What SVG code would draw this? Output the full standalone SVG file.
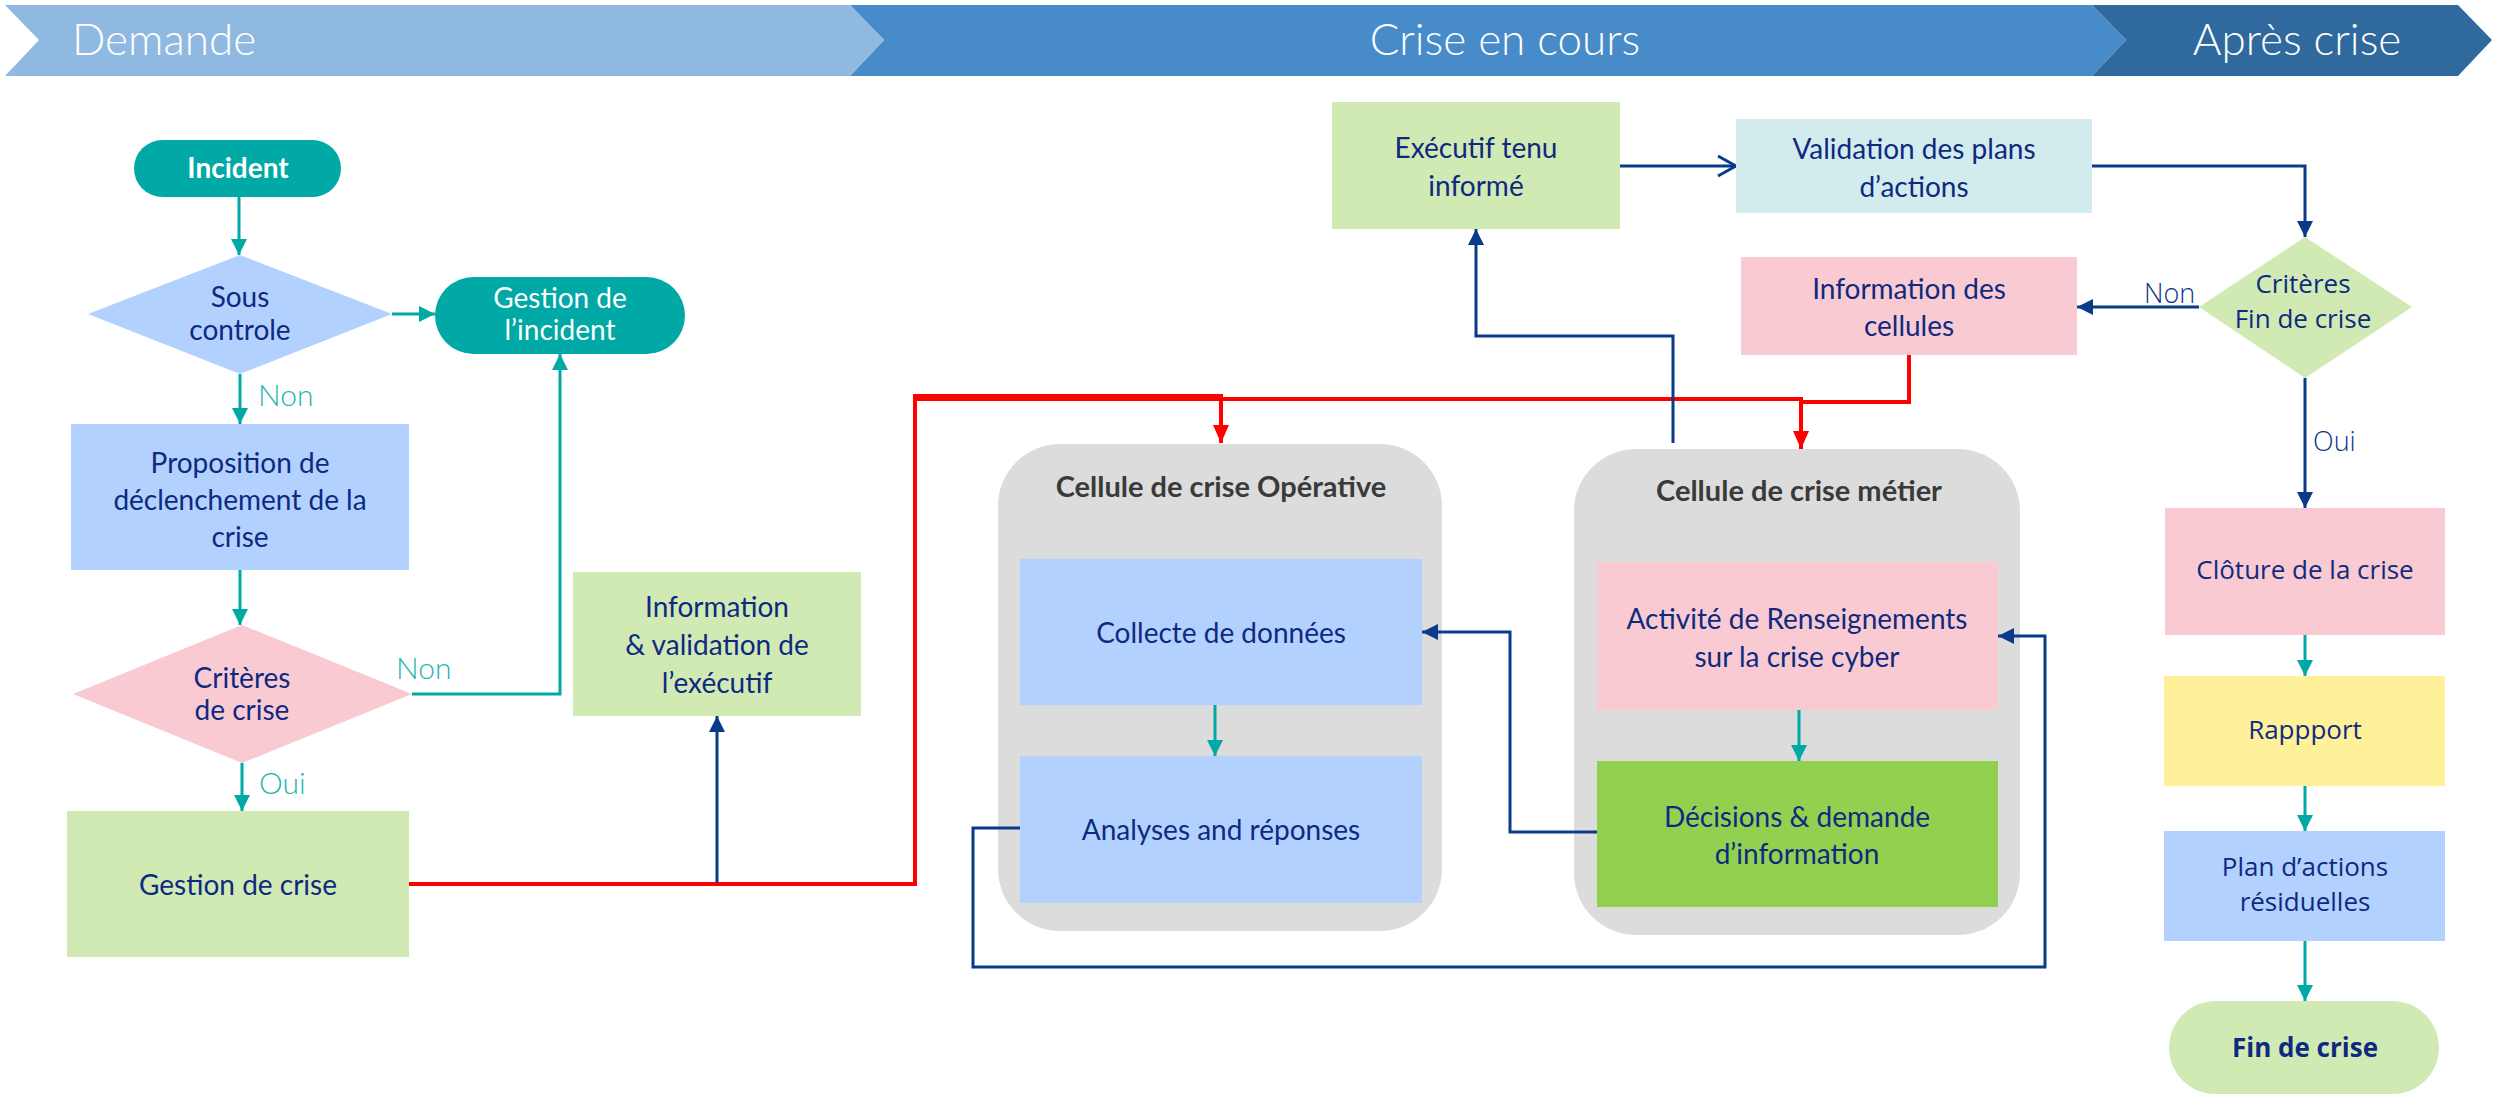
<svg xmlns="http://www.w3.org/2000/svg" width="2496" height="1096" viewBox="0 0 2496 1096">
<defs>
<style>
.t{font-family:Lato,"Liberation Sans",sans-serif;font-size:28px;fill:#0e2a80;text-anchor:middle}
.tw{fill:#ffffff}
.tb{font-weight:700}
.ti{font-family:Lato,"Liberation Sans",sans-serif;font-size:29px;font-weight:700;fill:#3a3a3a;text-anchor:middle}
.ts{font-family:"Open Sans","Noto Sans","Liberation Sans",sans-serif;font-size:26px;fill:#0e2a80;text-anchor:middle}
.ban{font-family:Lato,"Liberation Sans",sans-serif;font-size:44px;font-weight:300;fill:#ffffff}
.lt{font-family:Lato,"Liberation Sans",sans-serif;font-size:30px;font-weight:300;fill:#1fb5ae}
.ln{font-family:"Open Sans","Noto Sans","Liberation Sans",sans-serif;font-size:27px;font-weight:300;fill:#0e3585}
.teal{fill:none;stroke:#00a9a6;stroke-width:3}
.navy{fill:none;stroke:#0a3a8a;stroke-width:3}
.red{fill:none;stroke:#ff0000;stroke-width:4}
.blue{fill:#b3d1ff}
.pink{fill:#f9cad2}
.green{fill:#d1eab4}
.gray{fill:#dcdcdc}
</style>
<marker id="aT" viewBox="0 0 16 16" refX="16" refY="8" markerWidth="16" markerHeight="16" markerUnits="userSpaceOnUse" orient="auto"><path d="M0,0 L16,8 L0,16 z" fill="#00a9a6"/></marker>
<marker id="aN" viewBox="0 0 16 16" refX="16" refY="8" markerWidth="16" markerHeight="16" markerUnits="userSpaceOnUse" orient="auto"><path d="M0,0 L16,8 L0,16 z" fill="#0a3a8a"/></marker>
<marker id="aR" viewBox="0 0 18 16" refX="18" refY="8" markerWidth="18" markerHeight="16" markerUnits="userSpaceOnUse" orient="auto"><path d="M0,0 L18,8 L0,16 z" fill="#ff0000"/></marker>
<marker id="aO" viewBox="0 0 22 24" refX="20" refY="12" markerWidth="22" markerHeight="24" markerUnits="userSpaceOnUse" orient="auto"><path d="M2,2 L20,12 L2,22" fill="none" stroke="#0a3a8a" stroke-width="3"/></marker>
</defs>
<rect width="2496" height="1096" fill="#ffffff"/>

<g id="banner">
<polygon points="2092,5 2458,5 2492,40 2458,76 2092,76 2126,40" fill="#30699e"/>
<polygon points="850,5 2092,5 2126,40 2092,76 850,76 884,40" fill="#478bc9"/>
<polygon points="5,5 850,5 884,40 850,76 5,76 39,40" fill="#8fb9e0"/>
<text class="ban" x="72" y="55">Demande</text>
<text class="ban" x="1505" y="55" text-anchor="middle">Crise en cours</text>
<text class="ban" x="2297" y="55" text-anchor="middle">Après crise</text>
</g>

<g id="cellule-operative">
<rect class="gray" x="998" y="444" width="444" height="487" rx="62"/>
<text class="ti" x="1221" y="497">Cellule de crise Opérative</text>
</g>
<g id="cellule-metier">
<rect class="gray" x="1574" y="449" width="446" height="486" rx="62"/>
<text class="ti" x="1799" y="501">Cellule de crise métier</text>
</g>

<g id="connectors">
<path class="teal" d="M239,197 V255" marker-end="url(#aT)"/>
<path class="teal" d="M392,314 H435" marker-end="url(#aT)"/>
<path class="teal" d="M240,374 V424" marker-end="url(#aT)"/>
<path class="teal" d="M240,570 V625" marker-end="url(#aT)"/>
<path class="teal" d="M412,694 H560 V354" marker-end="url(#aT)"/>
<path class="teal" d="M242,763 V811" marker-end="url(#aT)"/>
<path class="teal" d="M1215,705 V756" marker-end="url(#aT)"/>
<path class="teal" d="M1799,710 V761" marker-end="url(#aT)"/>
<path class="teal" d="M2305,635 V676" marker-end="url(#aT)"/>
<path class="teal" d="M2305,786 V831" marker-end="url(#aT)"/>
<path class="teal" d="M2305,941 V1001" marker-end="url(#aT)"/>

<path class="red" d="M409,884 H915 V396 H1221 V443" marker-end="url(#aR)"/>
<path class="red" d="M915,399 H1801 V449" marker-end="url(#aR)"/>
<path class="red" d="M1909,355 V402 H1801"/>

<path class="navy" d="M717,883 V716" marker-end="url(#aN)"/>
<path class="navy" d="M1673,443 V336 H1476 V229" marker-end="url(#aN)"/>
<path class="navy" d="M1620,166 H1736" marker-end="url(#aO)"/>
<path class="navy" d="M2092,166 H2305 V237" marker-end="url(#aN)"/>
<path class="navy" d="M2199,307 H2077" marker-end="url(#aN)"/>
<path class="navy" d="M2305,378 V508" marker-end="url(#aN)"/>
<path class="navy" d="M1597,832 H1510 V632 H1422" marker-end="url(#aN)"/>
<path class="navy" d="M1020,828 H973 V967 H2045 V636 H1998" marker-end="url(#aN)"/>

<text class="lt" x="258" y="406">Non</text>
<text class="lt" x="396" y="679">Non</text>
<text class="lt" x="259" y="794">Oui</text>
<text class="ln" x="2144" y="303">Non</text>
<text class="ln" x="2313" y="451">Oui</text>
</g>

<g id="incident">
<rect x="134" y="140" width="207" height="57" rx="28.5" fill="#00a9a6"/>
<text class="t tw tb" x="238" y="178">Incident</text>
</g>
<g id="sous-controle">
<polygon points="88,314 240,255 392,314 240,374" class="blue"/>
<text class="t" x="240" y="307">Sous</text>
<text class="t" x="240" y="340">controle</text>
</g>
<g id="gestion-incident">
<rect x="435" y="277" width="250" height="77" rx="38.5" fill="#00a9a6"/>
<text class="t tw" x="560" y="308">Gestion de</text>
<text class="t tw" x="560" y="340">l’incident</text>
</g>
<g id="proposition">
<rect class="blue" x="71" y="424" width="338" height="146"/>
<text class="t" x="240" y="473">Proposition de</text>
<text class="t" x="240" y="510">déclenchement de la</text>
<text class="t" x="240" y="547">crise</text>
</g>
<g id="criteres-crise">
<polygon points="73,694 242,625 412,694 242,763" class="pink"/>
<text class="t" x="242" y="688">Critères</text>
<text class="t" x="242" y="720">de crise</text>
</g>
<g id="gestion-crise">
<rect class="green" x="67" y="811" width="342" height="146"/>
<text class="t" x="238" y="895">Gestion de crise</text>
</g>
<g id="info-validation">
<rect class="green" x="573" y="572" width="288" height="144"/>
<text class="t" x="717" y="617">Information</text>
<text class="t" x="717" y="655">&amp; validation de</text>
<text class="t" x="717" y="693">l’exécutif</text>
</g>
<g id="executif">
<rect class="green" x="1332" y="102" width="288" height="127"/>
<text class="t" x="1476" y="158">Exécutif tenu</text>
<text class="t" x="1476" y="196">informé</text>
</g>
<g id="validation-plans">
<rect x="1736" y="119" width="356" height="94" fill="#d2ebec"/>
<text class="t" x="1914" y="159">Validation des plans</text>
<text class="t" x="1914" y="197">d’actions</text>
</g>
<g id="info-cellules">
<rect class="pink" x="1741" y="257" width="336" height="98"/>
<text class="t" x="1909" y="299">Information des</text>
<text class="t" x="1909" y="336">cellules</text>
</g>
<g id="collecte">
<rect class="blue" x="1020" y="559" width="402" height="146"/>
<text class="t" x="1221" y="643">Collecte de données</text>
</g>
<g id="analyses">
<rect class="blue" x="1020" y="756" width="402" height="147"/>
<text class="t" x="1221" y="840">Analyses and réponses</text>
</g>
<g id="activite">
<rect class="pink" x="1597" y="562" width="401" height="148"/>
<text class="t" x="1797" y="629">Activité de Renseignements</text>
<text class="t" x="1797" y="667">sur la crise cyber</text>
</g>
<g id="decisions">
<rect x="1597" y="761" width="401" height="146" fill="#92d050"/>
<text class="t" x="1797" y="827">Décisions &amp; demande</text>
<text class="t" x="1797" y="864">d’information</text>
</g>
<g id="criteres-fin">
<polygon points="2199,307 2305,237 2412,307 2305,378" class="green"/>
<text class="ts" x="2303" y="293" font-size="24">Critères</text>
<text class="ts" x="2303" y="328" font-size="24">Fin de crise</text>
</g>
<g id="cloture">
<rect class="pink" x="2165" y="508" width="280" height="127"/>
<text class="ts" x="2305" y="579">Clôture de la crise</text>
</g>
<g id="rapport">
<rect x="2164" y="676" width="281" height="110" fill="#fff09a"/>
<text class="ts" x="2305" y="739">Rappport</text>
</g>
<g id="plan-actions">
<rect class="blue" x="2164" y="831" width="281" height="110"/>
<text class="ts" x="2305" y="876" font-size="25">Plan d’actions</text>
<text class="ts" x="2305" y="911" font-size="25">résiduelles</text>
</g>
<g id="fin-crise">
<rect class="green" x="2169" y="1001" width="270" height="93" rx="46.5"/>
<text class="ts tb" x="2305" y="1057">Fin de crise</text>
</g>
</svg>
